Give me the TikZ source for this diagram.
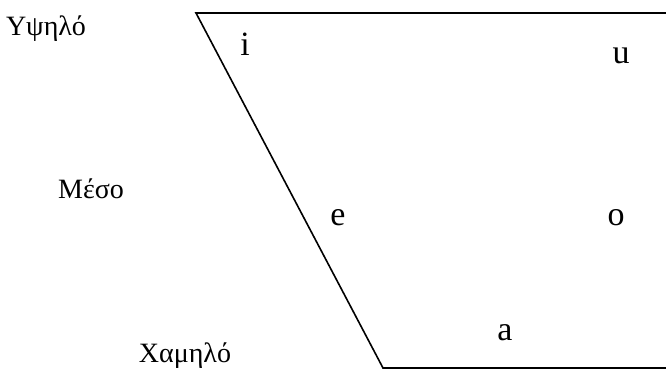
\documentclass[tikz,border=0pt]{standalone}
\usepackage{fontspec}
\setmainfont{Liberation Serif}
\usetikzlibrary{positioning}

\begin{document}
\begin{tikzpicture}[x=1pt, y=-1pt, every node/.style={font=\fontsize{28}{32}\selectfont, anchor=base, inner sep=0pt},
    vowel/.style={font=\fontsize{34}{38}\selectfont}]
  \useasboundingbox (0,0) rectangle (666,371);
  % vowel space outline
  \coordinate (tl) at (196,13);
  \coordinate (tr) at (666,13);
  \coordinate (bl) at (383,368);
  \coordinate (br) at (666,368);
  \draw[line width=1.6pt] (tr) -- (tl) -- (bl) -- (br);
  % height labels
  \node (high) at (46,36) {Υψηλό};
  \node (mid) at (91,199) {Μέσο};
  \node (low) at (185,362) {Χαμηλό};
  % vowels
  \node[vowel] (i) at (245,56) {i};
  \node[vowel] (u) at (621,64) {u};
  \node[vowel] (e) at (338,226) {e};
  \node[vowel] (o) at (616,226) {o};
  \node[vowel] (a) at (505,340) {a};
\end{tikzpicture}
\end{document}
